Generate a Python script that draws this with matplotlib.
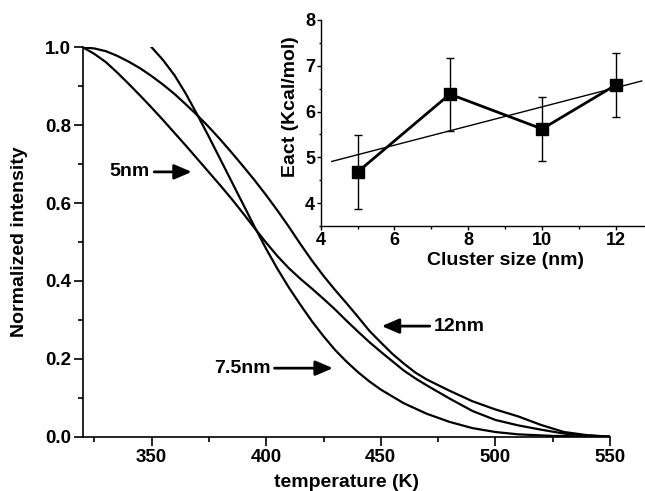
import matplotlib
matplotlib.use("Agg")
import matplotlib.pyplot as plt
import numpy as np
from matplotlib.ticker import MultipleLocator

plt.rcParams['font.family'] = ['Liberation Sans', 'DejaVu Sans']
plt.rcParams['font.weight'] = 'bold'

# ---- main panel data: normalized intensity vs temperature (K) ----
temp_12nm = [320, 325, 330, 335, 340, 345, 350, 355, 360, 365, 370, 375, 380, 385, 390,
             395, 400, 405, 410, 415, 420, 425, 430, 435, 440, 445, 450, 455, 460, 465,
             470, 480, 490, 500, 510, 520, 530, 540, 550]
int_12nm = [1.000, 0.997, 0.990, 0.978, 0.963, 0.946, 0.926, 0.904, 0.880, 0.853, 0.825,
            0.795, 0.763, 0.729, 0.694, 0.658, 0.620, 0.580, 0.538, 0.494, 0.452, 0.413,
            0.377, 0.343, 0.308, 0.272, 0.242, 0.213, 0.188, 0.165, 0.147, 0.118, 0.091,
            0.070, 0.052, 0.030, 0.012, 0.004, 0.0]

temp_5nm = [320, 325, 330, 335, 340, 345, 350, 355, 360, 365, 370, 375, 380, 385, 390,
            395, 400, 405, 410, 415, 420, 425, 430, 435, 440, 445, 450, 455, 460, 465,
            470, 480, 490, 500, 510, 520, 530, 540, 550]
int_5nm = [1.000, 0.983, 0.962, 0.935, 0.906, 0.876, 0.845, 0.813, 0.780, 0.747, 0.713,
           0.679, 0.645, 0.610, 0.573, 0.535, 0.498, 0.463, 0.432, 0.405, 0.380, 0.354,
           0.327, 0.298, 0.270, 0.243, 0.218, 0.194, 0.170, 0.150, 0.132, 0.098, 0.066,
           0.043, 0.029, 0.018, 0.008, 0.003, 0.0]

temp_7_5nm = [350, 355, 360, 365, 370, 375, 380, 385, 390, 395, 400, 405, 410, 415, 420,
              425, 430, 435, 440, 445, 450, 460, 470, 480, 490, 500, 510, 525, 550]
int_7_5nm = [1.000, 0.967, 0.928, 0.880, 0.826, 0.770, 0.712, 0.654, 0.596, 0.538, 0.482,
             0.430, 0.382, 0.338, 0.296, 0.258, 0.223, 0.193, 0.166, 0.142, 0.121, 0.086,
             0.059, 0.038, 0.022, 0.012, 0.006, 0.002, 0.0]

main_xticks = [350, 400, 450, 500, 550]
main_yticks = [0.0, 0.2, 0.4, 0.6, 0.8, 1.0]

# ---- inset data: activation energy vs cluster size ----
cluster_size = [5, 7.5, 10, 12]
eact = [4.68, 6.38, 5.62, 6.58]
eact_err = [0.80, 0.80, 0.70, 0.70]
fit_range = [4.3, 12.7]
inset_xticks = [4, 6, 8, 10, 12]
inset_yticks = [4, 5, 6, 7, 8]

fig = plt.figure(figsize=(6.45, 4.91), dpi=100)

# main axes
ax = fig.add_axes([0.1285, 0.1106, 0.8172, 0.7931])
for t, v in [(temp_12nm, int_12nm), (temp_5nm, int_5nm), (temp_7_5nm, int_7_5nm)]:
    ax.plot(t, v, color='black', lw=1.6, solid_joinstyle='round')
ax.set_xlim(320, 550)
ax.set_ylim(0, 1.0)
ax.set_xticks(main_xticks)
ax.set_yticks(main_yticks)
ax.set_yticklabels([f"{v:.1f}" for v in main_yticks])
ax.xaxis.set_minor_locator(MultipleLocator(25))
ax.yaxis.set_minor_locator(MultipleLocator(0.1))
ax.spines['top'].set_visible(False)
ax.spines['right'].set_visible(False)
for s in ('left', 'bottom'):
    ax.spines[s].set_linewidth(1.2)
ax.tick_params(which='major', length=6.5, width=1.2, labelsize=13.5, pad=2)
ax.tick_params(which='minor', length=3.6, width=1.2)
for lab in ax.get_xticklabels() + ax.get_yticklabels():
    lab.set_fontweight('bold')
ax.set_xlabel('temperature (K)', fontsize=14, fontweight='bold')
ax.set_ylabel('Normalized intensity', fontsize=14, fontweight='bold')
ax.xaxis.set_label_coords(0.5, -0.095)
ax.yaxis.set_label_coords(-0.104, 0.5)

arrowprops = dict(arrowstyle='-|>,head_length=0.7,head_width=0.3', color='black', lw=2,
                  mutation_scale=15, shrinkA=1, shrinkB=0)
ax.annotate('5nm', xy=(367.5, 0.68), xytext=(349.3, 0.68), ha='right', va='center',
            fontsize=14, fontweight='bold', arrowprops=dict(arrowprops, relpos=(1, 0.5)))
ax.annotate('7.5nm', xy=(429.1, 0.176), xytext=(401.8, 0.176), ha='right', va='center',
            fontsize=14, fontweight='bold', arrowprops=dict(arrowprops, relpos=(1, 0.5)))
ax.annotate('12nm', xy=(450.4, 0.284), xytext=(473.2, 0.284), ha='left', va='center',
            fontsize=14, fontweight='bold', arrowprops=dict(arrowprops, relpos=(0, 0.5)))

# inset axes
ins = fig.add_axes([0.4972, 0.5397, 0.5034, 0.4196])
ins.patch.set_alpha(0)
coef = np.polyfit(cluster_size, eact, 1)
fx = np.array(fit_range)
ins.plot(fx, np.polyval(coef, fx), color='black', lw=1.0)
ins.errorbar(cluster_size, eact, yerr=eact_err, color='black', lw=2, marker='s',
             markersize=8, ecolor='black', elinewidth=1.0, capsize=3, capthick=1.0)
ins.set_xlim(4, 12.8)
ins.set_ylim(3.5, 8)
ins.set_xticks(inset_xticks)
ins.set_yticks(inset_yticks)
ins.xaxis.set_minor_locator(MultipleLocator(1))
ins.yaxis.set_minor_locator(MultipleLocator(0.5))
ins.spines['top'].set_visible(False)
ins.spines['right'].set_visible(False)
for s in ('left', 'bottom'):
    ins.spines[s].set_linewidth(1.0)
ins.tick_params(which='major', length=3, width=1.0, labelsize=13, pad=1)
ins.tick_params(which='minor', length=1.8, width=1.0)
for lab in ins.get_xticklabels() + ins.get_yticklabels():
    lab.set_fontweight('bold')
ins.set_xlabel('Cluster size (nm)', fontsize=14, fontweight='bold')
ins.set_ylabel('Eact (Kcal/mol)', fontsize=14, fontweight='bold')
ins.xaxis.set_label_coords(0.568, -0.128)
ins.yaxis.set_label_coords(-0.068, 0.578)

fig.savefig('out.png', dpi=100)
